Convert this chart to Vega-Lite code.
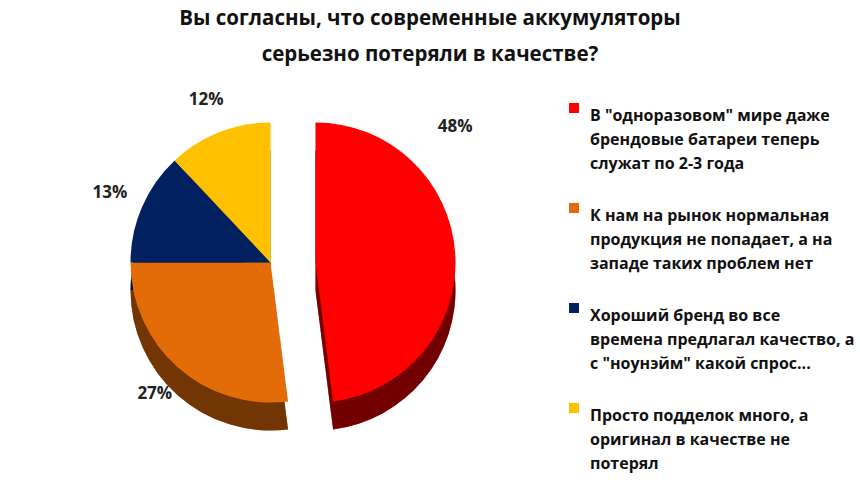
{
  "$schema": "https://vega.github.io/schema/vega-lite/v6.json",
  "width": 860,
  "height": 486,
  "autosize": {"type": "fit", "contains": "padding"},
  "padding": {"top": 18, "left": 5, "right": 5, "bottom": 5},
  "background": "white",
  "title": {
    "text": ["Вы согласны, что современные аккумуляторы", "серьезно потеряли в качестве?"],
    "anchor": "middle",
    "frame": "bounds",
    "font": "Open Sans",
    "fontSize": 20.5,
    "fontWeight": "bold",
    "color": "#111",
    "lineHeight": 36,
    "offset": 25
  },
  "data": {
    "values": [
      {"answer": "В \"одноразовом\" мире даже|брендовые батареи теперь|служат по 2-3 года", "value": 48, "order": 1, "label": "48%", "exploded": true},
      {"answer": "К нам на рынок нормальная|продукция не попадает, а на|западе таких проблем нет", "value": 27, "order": 2, "label": "27%", "exploded": false},
      {"answer": "Хороший бренд во все|времена предлагал качество, а|с \"ноунэйм\" какой спрос...", "value": 13, "order": 3, "label": "13%", "exploded": false},
      {"answer": "Просто подделок много, а|оригинал в качестве не|потерял", "value": 12, "order": 4, "label": "12%", "exploded": false}
    ]
  },
  "transform": [
    {"stack": "value", "groupby": [], "sort": [{"field": "order", "order": "ascending"}], "as": ["v0", "v1"]},
    {"calculate": "(datum.v0 + datum.v1) / 2", "as": "vmid"}
  ],
  "layer": [
    {
      "encoding": {
        "theta": {"field": "v0", "type": "quantitative", "scale": {"domain": [0, 100]}},
        "theta2": {"field": "v1"},
        "color": {
          "field": "answer", "type": "nominal", "title": null,
          "sort": {"field": "order"},
          "scale": {"range": ["#ff0000", "#e36c09", "#002060", "#ffc000"]},
          "legend": {"labelExpr": "split(datum.label, '|')"}
        }
      },
      "layer": [
        {
          "transform": [{"filter": "!datum.exploded"}],
          "mark": {"type": "arc", "outerRadius": 140, "yOffset": 0}
        },
        {
          "transform": [{"filter": "!datum.exploded"}],
          "mark": {"type": "arc", "outerRadius": 140, "yOffset": 0, "fillOpacity": 0.5},
          "encoding": {"color": {"value": "black"}}
        },
        {
          "transform": [{"filter": "!datum.exploded"}],
          "mark": {"type": "arc", "outerRadius": 140, "yOffset": -28}
        },
        {
          "transform": [{"filter": "datum.exploded"}],
          "mark": {"type": "arc", "outerRadius": 140, "xOffset": 45, "yOffset": 0}
        },
        {
          "transform": [{"filter": "datum.exploded"}],
          "mark": {"type": "arc", "outerRadius": 140, "xOffset": 45, "yOffset": 0, "fillOpacity": 0.55},
          "encoding": {"color": {"value": "black"}}
        },
        {
          "transform": [{"filter": "datum.exploded"}],
          "mark": {"type": "arc", "outerRadius": 140, "xOffset": 45, "yOffset": -28}
        }
      ]
    },
    {
      "transform": [{"filter": "!datum.exploded"}],
      "mark": {"type": "text", "radius": 175, "yOffset": -28, "font": "Open Sans", "fontSize": 17, "fontWeight": "bold", "color": "#222"},
      "encoding": {
        "theta": {"field": "vmid", "type": "quantitative", "scale": {"domain": [0, 100]}},
        "text": {"field": "label"}
      }
    },
    {
      "transform": [{"filter": "datum.exploded"}],
      "mark": {"type": "text", "radius": 175, "xOffset": 45, "yOffset": -28, "dx": -35, "dy": -125, "font": "Open Sans", "fontSize": 17, "fontWeight": "bold", "color": "#222"},
      "encoding": {
        "theta": {"field": "vmid", "type": "quantitative", "scale": {"domain": [0, 100]}},
        "text": {"field": "label"}
      }
    }
  ],
  "config": {
    "view": {"stroke": null},
    "style": {"guide-label": {"lineHeight": 24}},
    "legend": {
      "orient": "right",
      "labelFont": "Open Sans",
      "labelFontSize": 16,
      "labelFontWeight": "bold",
      "labelColor": "#111",
      "labelLimit": 400,
      "labelBaseline": "top",
      "labelOffset": 8,
      "symbolType": "square",
      "symbolSize": 100,
      "symbolStrokeWidth": 0,
      "symbolOffset": 0,
      "rowPadding": 28,
      "offset": 30,
      "padding": 0
    }
  }
}
